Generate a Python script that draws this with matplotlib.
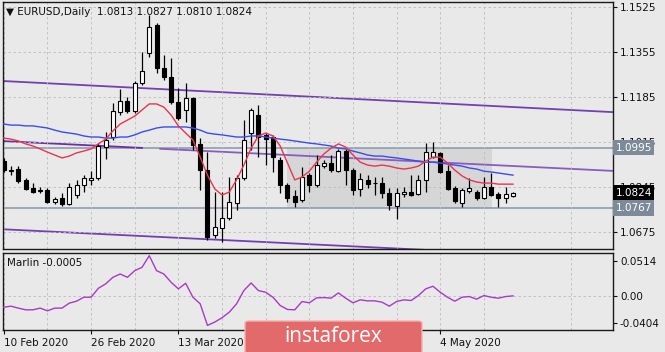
import matplotlib
matplotlib.use('Agg')
import matplotlib.pyplot as plt
import matplotlib.transforms as mtransforms
from matplotlib.patches import FancyBboxPatch, Rectangle

# ---- data (bar 0 = 10 Feb 2020, daily bars) ----
opens = [1.0944, 1.0905, 1.0914, 1.0873, 1.0842, 1.0832, 1.0835, 1.0790, 1.0804, 1.0782,
         1.0816, 1.0854, 1.0873, 1.0880, 1.0997, 1.1035, 1.1129, 1.1171, 1.1133, 1.1239,
         1.1352, 1.1458, 1.1296, 1.1262, 1.1167, 1.1137, 1.1182, 1.1009, 1.0910, 1.0665,
         1.0691, 1.0729, 1.0786, 1.0880, 1.1050, 1.1118, 1.1043, 1.1035, 1.0948, 1.0854,
         1.0812, 1.0797, 1.0891, 1.0854, 1.0925, 1.0937, 1.0906, 1.0982, 1.0910, 1.0839,
         1.0873, 1.0861, 1.0861, 1.0824, 1.0774, 1.0820, 1.0827, 1.0820, 1.0873, 1.0959,
         1.0975, 1.0906, 1.0842, 1.0786, 1.0831, 1.0827, 1.0805, 1.0846, 1.0820, 1.0805,
         1.0813]
highs = [1.0956, 1.0925, 1.0925, 1.0880, 1.0861, 1.0846, 1.0842, 1.0808, 1.0823, 1.0861,
         1.0873, 1.0891, 1.0906, 1.1012, 1.1054, 1.1164, 1.1216, 1.1186, 1.1247, 1.1356,
         1.1496, 1.1466, 1.1345, 1.1333, 1.1220, 1.1239, 1.1186, 1.1031, 1.0978, 1.0827,
         1.0827, 1.0884, 1.0891, 1.1099, 1.1145, 1.1156, 1.1050, 1.1043, 1.0959, 1.0861,
         1.0835, 1.0921, 1.0899, 1.0967, 1.0948, 1.0967, 1.0990, 1.0990, 1.0918, 1.0899,
         1.0891, 1.0884, 1.0884, 1.0842, 1.0842, 1.0846, 1.0891, 1.0891, 1.1012, 1.1016,
         1.0978, 1.0929, 1.0850, 1.0842, 1.0880, 1.0835, 1.0884, 1.0899, 1.0827, 1.0846,
         1.0827]
lows = [1.0903, 1.0891, 1.0861, 1.0835, 1.0824, 1.0823, 1.0786, 1.0782, 1.0774, 1.0778,
        1.0805, 1.0827, 1.0854, 1.0873, 1.0952, 1.1024, 1.1118, 1.1126, 1.1126, 1.1231,
        1.1337, 1.1277, 1.1250, 1.1160, 1.1099, 1.1092, 1.0986, 1.0835, 1.0646, 1.0653,
        1.0638, 1.0721, 1.0759, 1.0873, 1.0986, 1.0959, 1.0929, 1.0903, 1.0824, 1.0790,
        1.0771, 1.0790, 1.0827, 1.0846, 1.0918, 1.0903, 1.0903, 1.0854, 1.0816, 1.0812,
        1.0842, 1.0816, 1.0805, 1.0759, 1.0725, 1.0808, 1.0812, 1.0816, 1.0827, 1.0956,
        1.0899, 1.0835, 1.0786, 1.0771, 1.0824, 1.0797, 1.0801, 1.0812, 1.0771, 1.0786,
        1.0810]
closes = [1.0910, 1.0912, 1.0869, 1.0839, 1.0827, 1.0836, 1.0790, 1.0801, 1.0782, 1.0846,
          1.0854, 1.0880, 1.0880, 1.1001, 1.1024, 1.1133, 1.1171, 1.1133, 1.1239, 1.1284,
          1.1451, 1.1296, 1.1262, 1.1167, 1.1107, 1.1182, 1.1005, 1.0910, 1.0657, 1.0695,
          1.0729, 1.0789, 1.0880, 1.1024, 1.1137, 1.1035, 1.1027, 1.0959, 1.0854, 1.0805,
          1.0790, 1.0884, 1.0854, 1.0929, 1.0937, 1.0910, 1.0982, 1.0910, 1.0835, 1.0876,
          1.0857, 1.0860, 1.0824, 1.0778, 1.0824, 1.0827, 1.0816, 1.0873, 1.0978, 1.0978,
          1.0903, 1.0839, 1.0793, 1.0835, 1.0842, 1.0805, 1.0846, 1.0816, 1.0805, 1.0820,
          1.0824]

ma_red = [1.1031, 1.1027, 1.1020, 1.1009, 1.1001, 1.0990, 1.0978, 1.0967, 1.0956, 1.0963,
          1.0975, 1.0982, 1.0990, 1.1009, 1.1027, 1.1058, 1.1084, 1.1099, 1.1114, 1.1137,
          1.1160, 1.1160, 1.1148, 1.1118, 1.1077, 1.1050, 1.1024, 1.0959, 1.0891, 1.0839,
          1.0816, 1.0827, 1.0873, 1.0929, 1.0993, 1.1039, 1.1050, 1.1039, 1.1001, 1.0937,
          1.0873, 1.0884, 1.0906, 1.0940, 1.0971, 1.0993, 1.1009, 1.0997, 1.0967, 1.0940,
          1.0929, 1.0925, 1.0929, 1.0925, 1.0918, 1.0914, 1.0918, 1.0925, 1.0944, 1.0959,
          1.0959, 1.0937, 1.0910, 1.0888, 1.0873, 1.0865, 1.0861, 1.0861, 1.0857, 1.0857,
          1.0857]
ma_blue = [1.1084, 1.1080, 1.1080, 1.1077, 1.1077, 1.1073, 1.1069, 1.1061, 1.1054, 1.1050,
           1.1046, 1.1039, 1.1035, 1.1035, 1.1031, 1.1031, 1.1035, 1.1035, 1.1043, 1.1054,
           1.1061, 1.1069, 1.1073, 1.1073, 1.1073, 1.1073, 1.1069, 1.1061, 1.1050, 1.1046,
           1.1043, 1.1039, 1.1035, 1.1035, 1.1039, 1.1039, 1.1035, 1.1031, 1.1027, 1.1024,
           1.1020, 1.1016, 1.1012, 1.1009, 1.1005, 1.1001, 1.0993, 1.0990, 1.0982, 1.0975,
           1.0967, 1.0963, 1.0963, 1.0959, 1.0956, 1.0952, 1.0948, 1.0944, 1.0940, 1.0940,
           1.0937, 1.0933, 1.0929, 1.0925, 1.0918, 1.0914, 1.0906, 1.0903, 1.0899, 1.0895,
           1.0891]
marlin = [-0.0173, -0.0158, -0.0187, -0.0212, -0.0212, -0.0187, -0.0227, -0.0187, -0.0187, -0.0113,
          -0.0084, -0.0025, -0.0025, 0.0108, 0.0173, 0.0271, 0.0320, 0.0271, 0.0370, 0.0419,
          0.0592, 0.0370, 0.0320, 0.0197, 0.0099, 0.0182, -0.0025, -0.0123, -0.0444, -0.0394,
          -0.0330, -0.0247, -0.0123, 0.0074, 0.0187, 0.0074, 0.0049, -0.0025, -0.0148, -0.0207,
          -0.0212, -0.0089, -0.0108, -0.0035, -0.0030, -0.0039, 0.0039, -0.0039, -0.0108, -0.0064,
          -0.0079, -0.0079, -0.0099, -0.0158, -0.0089, -0.0064, -0.0074, 0.0000, 0.0099, 0.0138,
          0.0049, -0.0025, -0.0084, -0.0025, -0.0015, -0.0054, 0.0000, -0.0025, -0.0039, -0.0015,
          -0.0005]

# trend lines (bar, price) pairs, horizontal levels and range box
channel_top = [(-0.45, 1.1247), (83.75, 1.1129)]
channel_mid = [(-0.45, 1.1020), (83.75, 1.0907)]
channel_bot = [(-0.45, 1.0687), (83.75, 1.0574)]
level_hi = 1.0995
level_lo = 1.0767
box_bars = (39.0, 67.1)

# the 31 Mar / 16 Apr labels sit under the watermark in the original
date_ticks = [0, 12, 24, 36, 48, 60]
date_labels = ['10 Feb 2020', '26 Feb 2020', '13 Mar 2020', '', '', '4 May 2020']
price_ticks = [1.1525, 1.1355, 1.1185, 1.1015, 1.0845, 1.0675]
marlin_ticks = [0.0514, 0.0, -0.0404]
marlin_tick_labels = ['0.0514', '0.00', '-0.0404']

bg = '#e9e9e9'
grid_c = '#bcbcbc'
W, H = 665, 352

fig = plt.figure(figsize=(W / 100, H / 100), dpi=100, facecolor=bg)
ax = fig.add_axes([3 / W, 1 - 249 / H, 610 / W, 247 / H], facecolor=bg)
ax2 = fig.add_axes([3 / W, 22 / H, 610 / W, 77 / H], facecolor=bg)

xs = list(range(len(closes)))
xmin, xmax = -0.11, 83.75

# range box + levels
ax.add_patch(Rectangle((box_bars[0], level_lo), box_bars[1] - box_bars[0], level_hi - level_lo,
                       facecolor='#d6d6d6', edgecolor='none', zorder=0.5))
ax.axhline(level_hi, color='#8796a6', lw=1.1, zorder=1)
ax.axhline(level_lo, color='#8796a6', lw=1.1, zorder=1)

# channel lines (middle one drawn in two pieces like the original)
ax.plot([p[0] for p in channel_top], [p[1] for p in channel_top], color='#7440b0', lw=1.3, zorder=1.5)
ax.plot([p[0] for p in channel_bot], [p[1] for p in channel_bot], color='#7440b0', lw=1.3, zorder=1.5)
(m0x, m0y), (m1x, m1y) = channel_mid
slope = (m1y - m0y) / (m1x - m0x)
ax.plot([m0x, 19.0], [m0y, m0y + slope * (19.0 - m0x)], color='#6a2fa6', lw=1.3, zorder=1.5)
ax.plot([21.5, m1x], [m0y + slope * (21.5 - m0x), m1y], color='#8a5cbf', lw=1.3, zorder=1.5)

# candles
for i in xs:
    o, h, l, c = opens[i], highs[i], lows[i], closes[i]
    ax.vlines(i, l, h, color='black', lw=0.9, zorder=3)
    body = max(abs(c - o), 0.00012)
    fc = 'white' if c >= o else 'black'
    ax.bar(i, body, bottom=min(o, c), width=0.55, color=fc, edgecolor='black', lw=0.8, zorder=4)

ax.plot(xs, ma_blue, color='#3a4cf0', lw=1.0, zorder=5)
ax.plot(xs, ma_red, color='#e8354f', lw=1.0, zorder=5)

ax.set_xlim(xmin, xmax)
ax.set_ylim(1.0612, 1.1545)
ax.yaxis.tick_right()
ax.set_yticks(price_ticks)
ax.set_yticklabels(['%.4f' % p for p in price_ticks])
ax.set_xticks(date_ticks)
ax.set_xticks([6 + 12 * k for k in range(7)], minor=True)
ax.tick_params(axis='x', which='both', length=0, labelbottom=False)
ax.tick_params(axis='y', length=3, width=0.8, pad=2, labelsize=7.5, colors='#111111')
ax.grid(True, which='both', linestyle=(0, (3, 3)), color=grid_c, lw=0.6, zorder=0)

# price tags on the right axis
tr = mtransforms.blended_transform_factory(ax.transAxes, ax.transData)
for val, fc in [(level_hi, '#7c8a99'), (level_lo, '#7c8a99'), (closes[-1], 'black')]:
    ax.text(1.004, val, '%.4f' % val, transform=tr, ha='left', va='center', fontsize=7.5,
            color='white', clip_on=False, zorder=10,
            bbox=dict(boxstyle='square,pad=0.25', facecolor=fc, edgecolor='none'))

fig.text(6 / W, 1 - 12 / H, '\u25bc EURUSD,Daily  1.0813 1.0827 1.0810 1.0824',
         fontsize=7.5, va='center', ha='left', color='#111111')

# Marlin panel
ax2.plot(xs, marlin, color='#a83ac4', lw=1.0, zorder=3)
ax2.axhline(0, linestyle=(0, (3, 3)), color=grid_c, lw=0.6, zorder=0)
ax2.set_xlim(xmin, xmax)
ax2.set_ylim(-0.0512, 0.0632)
ax2.yaxis.tick_right()
ax2.set_yticks(marlin_ticks)
ax2.set_yticklabels(marlin_tick_labels)
ax2.set_xticks(date_ticks)
ax2.set_xticklabels(date_labels, ha='left')
ax2.set_xticks([6 + 12 * k for k in range(7)], minor=True)
ax2.tick_params(axis='x', which='minor', length=0)
ax2.tick_params(axis='x', which='major', length=3, width=0.8, pad=3, labelsize=7.5, colors='#111111')
ax2.tick_params(axis='y', length=3, width=0.8, pad=2, labelsize=7.5, colors='#111111')
ax2.grid(True, axis='x', which='both', linestyle=(0, (3, 3)), color=grid_c, lw=0.6, zorder=0)
ax2.text(0.006, 0.87, 'Marlin -0.0005', transform=ax2.transAxes, fontsize=7.5, color='#111111', va='center')

for a in (ax, ax2):
    for s in a.spines.values():
        s.set_color('#1a1a1a')
        s.set_linewidth(1.0)

# watermark
fig.patches.append(FancyBboxPatch((245 / W, -0.02), 177 / W, 0.02 + 31 / H,
                                  boxstyle='round,pad=0,rounding_size=0.006',
                                  transform=fig.transFigure, facecolor='#e36a6a',
                                  edgecolor='#f2b2b2', lw=1.0, zorder=20))
fig.text(333 / W, 15 / H, 'instaforex', fontsize=15, color='white', ha='center', va='center',
         family='Open Sans', zorder=21)

fig.savefig('out.png', dpi=100, facecolor=bg)
